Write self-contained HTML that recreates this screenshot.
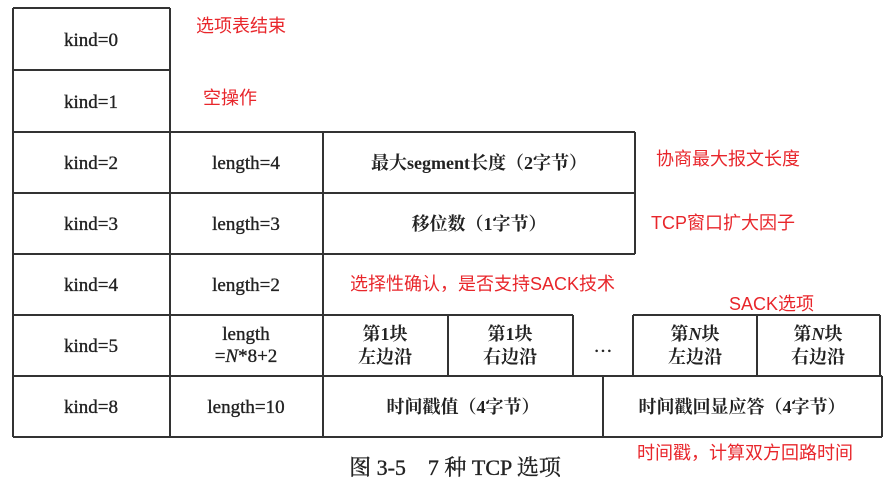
<!DOCTYPE html>
<html><head><meta charset="utf-8"><style>
html,body{margin:0;padding:0;background:#fff;width:890px;height:490px;overflow:hidden}
svg{display:block}
.t{font-family:"Liberation Serif","Noto Serif CJK SC",serif;font-size:19px;fill:#222;stroke:#222;stroke-width:0.35}
.b{font-family:"Liberation Serif","Noto Serif CJK SC",serif;font-size:18px;fill:#222;font-weight:bold}
.r{font-family:"Liberation Sans","Noto Sans CJK SC",sans-serif;font-size:18px;fill:#e8262b}
</style></head><body>
<svg width="890" height="490" viewBox="0 0 890 490" xmlns="http://www.w3.org/2000/svg">
<g stroke="#333" stroke-width="2" fill="none">
<line x1="13" y1="8" x2="170" y2="8"/>
<line x1="13" y1="70" x2="170" y2="70"/>
<line x1="13" y1="132" x2="635" y2="132"/>
<line x1="13" y1="193" x2="635" y2="193"/>
<line x1="13" y1="254" x2="635" y2="254"/>
<line x1="13" y1="315" x2="573" y2="315"/>
<line x1="633" y1="315" x2="880" y2="315"/>
<line x1="13" y1="376" x2="882" y2="376"/>
<line x1="13" y1="437" x2="882" y2="437"/>
<line x1="13" y1="8" x2="13" y2="437"/>
<line x1="170" y1="8" x2="170" y2="437"/>
<line x1="323" y1="132" x2="323" y2="437"/>
<line x1="635" y1="132" x2="635" y2="254"/>
<line x1="448" y1="315" x2="448" y2="376"/>
<line x1="573" y1="315" x2="573" y2="376"/>
<line x1="633" y1="315" x2="633" y2="376"/>
<line x1="757" y1="315" x2="757" y2="376"/>
<line x1="880" y1="315" x2="880" y2="376"/>
<line x1="603" y1="376" x2="603" y2="437"/>
<line x1="882" y1="376" x2="882" y2="437"/>
</g>
<g text-anchor="middle">
<text class="t" x="91" y="46">kind=0</text>
<text class="t" x="91" y="108">kind=1</text>
<text class="t" x="91" y="169">kind=2</text>
<text class="t" x="91" y="230">kind=3</text>
<text class="t" x="91" y="291">kind=4</text>
<text class="t" x="91" y="352">kind=5</text>
<text class="t" x="91" y="413">kind=8</text>
<text class="t" x="246" y="169">length=4</text>
<text class="t" x="246" y="230">length=3</text>
<text class="t" x="246" y="291">length=2</text>
<text class="t" x="246" y="340">length</text>
<text class="t" x="246" y="362">=<tspan font-style="italic">N</tspan>*8+2</text>
<text class="t" x="246" y="413">length=10</text>
<text class="b" x="479" y="169">最大segment长度（2字节）</text>
<text class="b" x="479" y="230">移位数（1字节）</text>
<text class="b" x="385" y="340">第1块</text>
<text class="b" x="385" y="363">左边沿</text>
<text class="b" x="510" y="340">第1块</text>
<text class="b" x="510" y="363">右边沿</text>
<text class="t" x="603" y="352">…</text>
<text class="b" x="695" y="340">第<tspan font-style="italic">N</tspan>块</text>
<text class="b" x="695" y="363">左边沿</text>
<text class="b" x="818" y="340">第<tspan font-style="italic">N</tspan>块</text>
<text class="b" x="818" y="363">右边沿</text>
<text class="b" x="463" y="413">时间戳值（4字节）</text>
<text class="b" x="742" y="413">时间戳回显应答（4字节）</text>
<text class="t" x="455" y="475" style="font-size:22px">图 3-5　7 种 TCP 选项</text>
</g>
<text class="r" x="196" y="32">选项表结束</text>
<text class="r" x="203" y="104">空操作</text>
<text class="r" x="656" y="165">协商最大报文长度</text>
<text class="r" x="651" y="229">TCP窗口扩大因子</text>
<text class="r" x="350" y="290">选择性确认，是否支持SACK技术</text>
<text class="r" x="729" y="310">SACK选项</text>
<text class="r" x="637" y="459">时间戳，计算双方回路时间</text>
</svg>
</body></html>
